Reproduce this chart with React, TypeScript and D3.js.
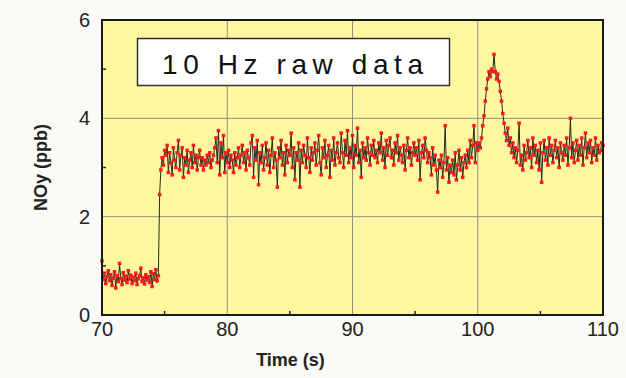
import React from 'react';
import * as d3 from 'd3';

// 10 Hz NOy samples, 70.0 s .. 110.0 s
const startTime = 70;
const sampleStep = 0.1;
const noyValues: number[] = [
  1.10, 0.72, 0.85, 0.64, 0.78, 0.90, 0.70, 0.82, 0.60, 0.75,
  0.88, 0.55, 0.80, 0.68, 1.05, 0.74, 0.62, 0.86, 0.71, 0.79,
  0.66, 0.90, 0.73, 0.81, 0.64, 0.77, 0.70, 0.85, 0.62, 0.74,
  0.80, 0.95, 0.68, 0.76, 0.63, 0.82, 0.71, 0.78, 0.66, 0.88,
  0.58, 0.84, 0.72, 0.92, 0.69, 0.80, 2.45, 2.95, 3.20, 3.05,
  3.35, 3.25, 3.45, 2.90, 3.30, 3.10, 2.85, 3.40, 3.15, 3.00,
  3.30, 3.55, 2.95, 3.25, 3.40, 2.80, 3.20, 3.05, 3.35, 2.90,
  3.15, 3.30, 3.00, 3.45, 3.10, 3.25, 2.95, 3.20, 3.35, 3.05,
  3.20, 2.95, 3.15, 3.05, 3.25, 3.10, 3.30, 3.00, 3.15, 3.25,
  3.40, 3.60, 3.10, 3.75, 2.85, 3.50, 3.20, 3.65, 2.90, 3.30,
  3.10, 3.35, 3.00, 3.25, 3.15, 2.90, 3.30, 3.05, 3.20, 3.40,
  3.00, 3.25, 3.45, 3.10, 3.30, 2.95, 3.35, 3.20, 3.05, 3.50,
  3.65, 2.80, 3.40, 3.15, 3.55, 2.65, 3.30, 3.10, 3.45, 2.95,
  3.20, 3.50, 3.05, 3.35, 2.90, 3.25, 3.60, 3.00, 3.30, 3.15,
  2.60, 3.40, 3.20, 3.55, 3.05, 3.30, 2.85, 3.45, 3.10, 3.35,
  3.25, 3.70, 3.00, 3.40, 2.75, 3.30, 3.15, 3.50, 2.60, 3.35,
  3.10, 3.45, 3.25, 3.00, 3.60, 3.20, 2.90, 3.40, 3.15, 3.30,
  3.50, 3.05, 3.35, 3.65, 3.10, 2.85, 3.40, 3.20, 3.55, 3.00,
  3.25, 3.45, 2.80, 3.35, 3.15, 3.60, 3.05, 3.30, 3.50, 3.20,
  3.10, 3.70, 3.30, 3.00, 3.55, 3.25, 3.75, 3.10, 3.40, 3.20,
  3.65, 3.00, 3.45, 3.25, 3.80, 3.10, 3.35, 2.80, 3.50, 3.20,
  3.40, 3.15, 3.60, 3.30, 3.05, 3.45, 3.25, 3.55, 3.20, 3.35,
  3.10, 3.50, 3.30, 3.70, 3.15, 3.40, 3.00, 3.55, 3.25, 3.45,
  3.60, 3.20, 3.35, 3.05, 3.50, 3.30, 3.65, 3.15, 3.40, 3.25,
  3.10, 3.45, 2.95, 3.35, 3.60, 3.20, 3.40, 3.05, 3.30, 3.50,
  3.25, 3.40, 3.15, 3.55, 2.75, 3.30, 3.45, 3.20, 3.60, 3.35,
  3.10, 3.30, 3.20, 2.85, 3.40, 3.05, 3.25, 2.95, 2.50, 3.15,
  3.00, 3.25, 2.80, 3.10, 3.85, 2.95, 3.20, 2.70, 3.05, 2.90,
  3.15, 2.85, 3.30, 2.75, 3.05, 3.35, 2.95, 3.20, 2.80, 3.10,
  3.25, 3.00, 3.35, 3.10, 3.55, 3.20, 3.45, 3.85, 3.10, 3.50,
  3.35, 3.50, 3.40, 3.60, 3.85, 4.05, 4.35, 4.60, 4.80, 4.95,
  4.85, 5.00, 4.95, 5.30, 4.95, 4.80, 4.90, 4.75, 4.55, 4.35,
  4.10, 3.90, 3.70, 3.55, 3.80, 3.45, 3.60, 3.30, 3.50, 3.20,
  3.40, 3.10, 3.35, 3.90, 3.05, 3.25, 2.95, 3.45, 3.15, 3.30,
  3.55, 3.20, 3.40, 3.00, 3.60, 3.25, 3.45, 3.10, 3.35, 2.95,
  3.50, 2.70, 3.30, 3.55, 3.15, 3.40, 3.05, 3.60, 3.25, 3.45,
  3.10, 3.35, 3.55, 3.20, 3.40, 3.00, 3.50, 3.30, 3.15, 3.45,
  3.25, 3.60, 3.05, 3.40, 4.00, 3.20, 3.50, 3.10, 3.35, 3.55,
  3.15, 3.45, 3.25, 3.60, 3.05, 3.40, 3.70, 3.20, 3.50, 3.30,
  3.55, 3.10, 3.40, 3.25, 3.60, 3.15, 3.45, 3.30, 3.35, 3.50,
  3.45,
];

const xLabelTicks = [70, 80, 90, 100, 110];
const xGridTicks = [80, 90, 100];
const xMinorTicks = [75, 85, 95, 105];
const yLabelTicks = [0, 2, 4, 6];
const yGridTicks = [2, 4];
const yMinorTicks = [1, 3, 5];

const W = 626;
const H = 378;
const plot = { left: 102, right: 603, top: 20, bottom: 315 };
const font = 'Liberation Sans, Arial, Helvetica, sans-serif';

const App: React.FC = () => {
  const x = d3.scaleLinear().domain([70, 110]).range([plot.left, plot.right]);
  const y = d3.scaleLinear().domain([0, 6]).range([plot.bottom, plot.top]);

  const points = noyValues.map((v, i) => ({ t: startTime + i * sampleStep, v }));
  const line = d3.line<{ t: number; v: number }>()
    .x(d => x(d.t))
    .y(d => y(d.v));

  return (
    <svg width={W} height={H} style={{ position: 'absolute', left: 0, top: 0, display: 'block' }}>
      <rect x={0} y={0} width={W} height={H} fill="#fafaf7" />
      <rect x={plot.left} y={plot.top} width={plot.right - plot.left} height={plot.bottom - plot.top} fill="#fdf8a0" />

      {/* grid */}
      {xGridTicks.map(t => (
        <line key={'gx' + t} x1={x(t)} x2={x(t)} y1={plot.top} y2={plot.bottom} stroke="#8f8f80" strokeWidth={1} />
      ))}
      {yGridTicks.map(t => (
        <line key={'gy' + t} x1={plot.left} x2={plot.right} y1={y(t)} y2={y(t)} stroke="#8f8f80" strokeWidth={1} />
      ))}

      {/* inner ticks */}
      {xMinorTicks.map(t => (
        <line key={'mx' + t} x1={x(t)} x2={x(t)} y1={plot.bottom} y2={plot.bottom - 4} stroke="#222" strokeWidth={1.5} />
      ))}
      {yMinorTicks.map(t => (
        <line key={'my' + t} x1={plot.left} x2={plot.left + 4} y1={y(t)} y2={y(t)} stroke="#222" strokeWidth={1.5} />
      ))}

      {/* title box */}
      <rect x={137.5} y={38.5} width={312} height={47} fill="#ffffff" stroke="#333" strokeWidth={1.5} />
      <text x={162} y={74} fontFamily={font} fontSize={28} fill="#111" textLength={261} lengthAdjust="spacing">
        10 Hz raw data
      </text>

      {/* data */}
      <path d={line(points) ?? ''} fill="none" stroke="#26291c" strokeWidth={1} />
      {points.map((d, i) => (
        <rect key={i} x={x(d.t) - 1.75} y={y(d.v) - 1.75} width={3.5} height={3.5} fill="#ff1a1a" />
      ))}

      {/* frame */}
      <rect x={plot.left} y={plot.top} width={plot.right - plot.left} height={plot.bottom - plot.top} fill="none" stroke="#1a1a1a" strokeWidth={2} />

      {/* tick labels */}
      {xLabelTicks.map(t => (
        <text key={'lx' + t} x={x(t)} y={336} textAnchor="middle" fontFamily={font} fontSize={20} fill="#222">
          {t}
        </text>
      ))}
      {yLabelTicks.map(t => (
        <text key={'ly' + t} x={90} y={y(t) + 7} textAnchor="end" fontFamily={font} fontSize={20} fill="#222">
          {t}
        </text>
      ))}

      {/* axis titles */}
      <text x={(plot.left + plot.right) / 2 - 62} y={366} textAnchor="middle" fontFamily={font} fontSize={18} fontWeight="bold" fill="#222">
        Time (s)
      </text>
      <text transform={`translate(47,${(plot.top + plot.bottom) / 2}) rotate(-90)`} textAnchor="middle" fontFamily={font} fontSize={18} fontWeight="bold" fill="#222">
        NOy (ppb)
      </text>
    </svg>
  );
};

export default App;
